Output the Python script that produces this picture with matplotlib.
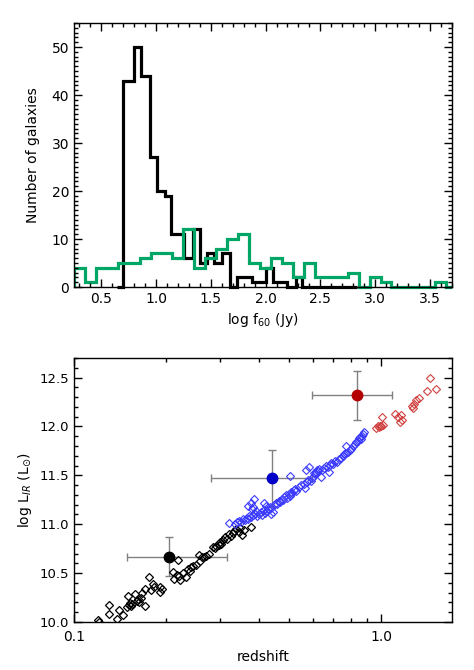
import numpy as np
import matplotlib
matplotlib.use('Agg')
import matplotlib.pyplot as plt
from matplotlib.patches import Rectangle
from matplotlib.ticker import MultipleLocator, FixedLocator, FuncFormatter, LogLocator, NullFormatter

# --- histogram: log f60 ---
# black sample: edges, counts per step
black_edges = [0.646, 0.700, 0.803, 0.864, 0.943, 1.004, 1.077, 1.138, 1.252, 1.338,
               1.398, 1.465, 1.525, 1.602, 1.671, 1.739, 1.875, 2.005, 2.072, 2.199,
               2.278, 2.331, 2.832]
black_counts = [0, 43, 50, 44, 27, 20, 19, 11, 6, 12,
                5, 7, 5, 7, 0, 2, 1, 4, 1, 0,
                2, 0]

# green sample: bins of 0.1 starting at 0.25
green_start = 0.25
green_width = 0.1
green_counts = [4, 1, 4, 4, 5, 5, 6, 7, 7, 6,
                12, 4, 6, 8, 10, 11, 5, 4, 6, 5,
                2, 5, 2, 2, 2, 3, 0, 2, 1, 0,
                0, 0, 0, 1, 0]

# --- redshift vs log L_IR ---
black_z = [0.120, 0.121, 0.130, 0.130, 0.138, 0.140, 0.145, 0.150, 0.149, 0.151,
           0.152, 0.153, 0.155, 0.158, 0.160, 0.162, 0.163, 0.165, 0.170, 0.171,
           0.167, 0.176, 0.181, 0.182, 0.178, 0.190, 0.194, 0.190, 0.210, 0.212,
           0.219, 0.216, 0.220, 0.222, 0.231, 0.226, 0.236, 0.241, 0.245, 0.250,
           0.238, 0.255, 0.261, 0.258, 0.265, 0.270, 0.275, 0.283, 0.288, 0.290,
           0.297, 0.300, 0.302, 0.305, 0.310, 0.315, 0.320, 0.325, 0.329, 0.333,
           0.338, 0.345, 0.348, 0.352, 0.358, 0.378]
black_L = [10.02, 10.00, 10.17, 10.08, 10.03, 10.12, 10.07, 10.27, 10.15, 10.17,
           10.19, 10.16, 10.18, 10.29, 10.21, 10.24, 10.20, 10.25, 10.16, 10.34,
           10.30, 10.46, 10.39, 10.36, 10.33, 10.36, 10.34, 10.31, 10.51, 10.44,
           10.63, 10.48, 10.47, 10.43, 10.46, 10.50, 10.54, 10.56, 10.57, 10.58,
           10.52, 10.69, 10.67, 10.62, 10.66, 10.68, 10.70, 10.77, 10.76, 10.78,
           10.79, 10.82, 10.80, 10.84, 10.87, 10.85, 10.90, 10.88, 10.91, 10.93,
           10.95, 10.92, 10.96, 10.89, 10.94, 10.97]

blue_z = [0.321, 0.335, 0.340, 0.345, 0.350, 0.355, 0.360, 0.365, 0.370, 0.372,
          0.378, 0.383, 0.390, 0.395, 0.400, 0.370, 0.381, 0.387, 0.378, 0.384,
          0.392, 0.407, 0.410, 0.415, 0.417, 0.423, 0.420, 0.425, 0.430, 0.435,
          0.440, 0.440, 0.445, 0.450, 0.455, 0.460, 0.465, 0.470, 0.475, 0.480,
          0.485, 0.490, 0.495, 0.500, 0.505, 0.510, 0.506, 0.515, 0.520, 0.525,
          0.530, 0.540, 0.550, 0.560, 0.565, 0.570, 0.575, 0.585, 0.580, 0.590,
          0.595, 0.600, 0.605, 0.610, 0.615, 0.620, 0.625, 0.630, 0.638, 0.645,
          0.650, 0.660, 0.670, 0.679, 0.680, 0.690, 0.700, 0.710, 0.720, 0.730,
          0.740, 0.750, 0.760, 0.770, 0.770, 0.780, 0.790, 0.800, 0.810, 0.820,
          0.830, 0.840, 0.850, 0.855, 0.860, 0.870, 0.875, 0.880]
blue_L = [11.01, 11.00, 11.02, 11.03, 11.02, 11.05, 11.04, 11.06, 11.05, 11.08,
          11.07, 11.09, 11.10, 11.08, 11.11, 11.19, 11.16, 11.26, 11.22, 11.18,
          11.14, 11.13, 11.09, 11.15, 11.22, 11.19, 11.12, 11.14, 11.16, 11.18,
          11.17, 11.11, 11.13, 11.20, 11.22, 11.21, 11.24, 11.23, 11.26, 11.25,
          11.28, 11.30, 11.27, 11.31, 11.29, 11.33, 11.49, 11.32, 11.35, 11.36,
          11.34, 11.38, 11.40, 11.41, 11.37, 11.55, 11.43, 11.59, 11.45, 11.44,
          11.47, 11.48, 11.52, 11.51, 11.53, 11.55, 11.54, 11.57, 11.48, 11.56,
          11.58, 11.60, 11.59, 11.53, 11.61, 11.63, 11.62, 11.65, 11.64, 11.67,
          11.68, 11.70, 11.72, 11.73, 11.80, 11.74, 11.76, 11.77, 11.80, 11.82,
          11.84, 11.85, 11.88, 11.89, 11.87, 11.90, 11.92, 11.94]

red_z = [0.965, 0.975, 0.985, 0.990, 1.000, 1.010, 1.015, 1.110, 1.140, 1.160,
         1.170, 1.150, 1.260, 1.280, 1.300, 1.330, 1.270, 1.410, 1.440, 1.510]
red_L = [11.98, 12.00, 11.99, 12.01, 12.00, 12.10, 12.02, 12.13, 12.10, 12.12,
         12.07, 12.05, 12.21, 12.23, 12.27, 12.29, 12.19, 12.36, 12.50, 12.38]

# stacked points with error bars
stack_z = [0.2047, 0.442, 0.838]
stack_L = [10.67, 11.47, 12.32]
stack_zlo = [0.149, 0.279, 0.595]
stack_zhi = [0.316, 0.598, 1.083]
stack_Lerr = [0.20, 0.29, 0.25]
stack_colors = ['black', '#0000c8', '#b40000']

plt.rcParams['font.size'] = 10

fig = plt.figure(figsize=(4.74, 6.70), dpi=100)
ax1 = fig.add_axes([0.156, 0.5716, 0.797, 0.394])
ax2 = fig.add_axes([0.156, 0.0716, 0.797, 0.394])

# top panel -- clip left/right at the frame, but let the zero level sit on the axis
clip = Rectangle((0, -0.05), 1, 1.1, transform=ax1.transAxes, visible=False)
ax1.add_patch(clip)
green_edges = green_start + green_width * np.arange(len(green_counts) + 1)
h1 = ax1.stairs(black_counts, black_edges, color='black', lw=2.3)
h2 = ax1.stairs(green_counts, green_edges, color='#00a665', lw=2.3)
for h in (h1, h2):
    h.set_clip_path(clip)
ax1.set_xlim(0.25, 3.70)
ax1.set_ylim(0, 55)
ax1.xaxis.set_major_locator(MultipleLocator(0.5))
ax1.xaxis.set_minor_locator(MultipleLocator(0.1))
ax1.yaxis.set_major_locator(MultipleLocator(10))
ax1.yaxis.set_minor_locator(MultipleLocator(1))
ax1.xaxis.set_major_formatter(FuncFormatter(lambda v, p: '%.1f' % v))
ax1.set_xlabel('log f$_{60}$ (Jy)')
ax1.set_ylabel('Number of galaxies')
ax1.yaxis.set_label_coords(-0.09, 0.5)

# bottom panel
for z, L, lo, hi, e, c in zip(stack_z, stack_L, stack_zlo, stack_zhi, stack_Lerr, stack_colors):
    ax2.errorbar([z], [L], xerr=[[z - lo], [hi - z]], yerr=[[e], [e]], fmt='none',
                 ecolor='#808080', elinewidth=1, capsize=3, capthick=1, zorder=2)
ax2.plot(black_z, black_L, 'D', ms=4, mfc='none', mec='black', mew=0.9, zorder=3)
ax2.plot(blue_z, blue_L, 'D', ms=4, mfc='none', mec='#3a3aff', mew=0.8, zorder=3)
ax2.plot(red_z, red_L, 'D', ms=4, mfc='none', mec='#d04040', mew=0.8, zorder=3)
for z, L, c in zip(stack_z, stack_L, stack_colors):
    ax2.plot([z], [L], 'o', ms=7.5, color=c, zorder=4)

ax2.set_xscale('log')
ax2.set_xlim(0.1, 1.7)
ax2.set_ylim(10.0, 12.7)
ax2.xaxis.set_major_locator(FixedLocator([0.1, 1.0]))
ax2.xaxis.set_major_formatter(FuncFormatter(lambda v, p: '%.1f' % v))
ax2.xaxis.set_minor_locator(LogLocator(base=10, subs=np.arange(2, 10)))
ax2.xaxis.set_minor_formatter(NullFormatter())
ax2.yaxis.set_major_locator(MultipleLocator(0.5))
ax2.yaxis.set_minor_locator(MultipleLocator(0.1))
ax2.yaxis.set_major_formatter(FuncFormatter(lambda v, p: '%.1f' % v))
ax2.set_xlabel('redshift')
ax2.set_ylabel(r'log L$_{IR}$ (L$_{\odot}$)')
ax2.yaxis.set_label_coords(-0.105, 0.5)
ax2.tick_params(axis='x', which='major', pad=6)
ax2.tick_params(axis='y', which='major', labelsize=9.5)

for ax in (ax1, ax2):
    ax.tick_params(which='both', direction='in', top=True, right=True, width=1)
    ax.tick_params(which='major', length=6)
    ax.tick_params(which='minor', length=3)
    for s in ax.spines.values():
        s.set_linewidth(1)

fig.savefig('out.png', dpi=100)
